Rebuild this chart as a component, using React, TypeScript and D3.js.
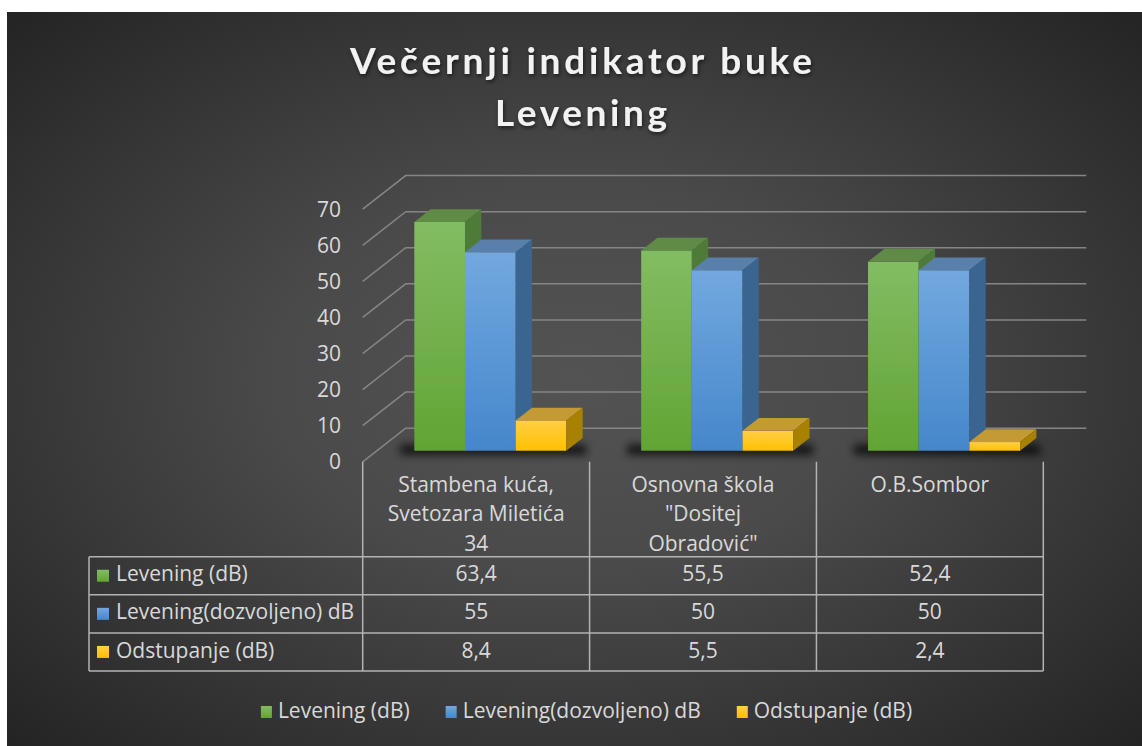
import React, { useEffect, useRef } from "react";
import * as d3 from "d3";

// chart data
const categoryLines = [
    ["Stambena kuća,", "Svetozara Miletića", "34"],
    ["Osnovna škola", "\"Dositej", "Obradović\""],
    ["O.B.Sombor"],
];
const seriesNames = ["Levening (dB)", "Levening(dozvoljeno) dB", "Odstupanje (dB)"];
const leveningValues = [63.4, 55.5, 52.4];
const allowedValues = [55, 50, 50];
const deviationValues = [8.4, 5.5, 2.4];
const yTicks = [0, 10, 20, 30, 40, 50, 60, 70];
const titleLines = ["Večernji indikator buke", "Levening"];

const seriesColors = [
    { light: "#82bd63", dark: "#62a434", top: "#5f8b46", side: "#4e7b37" },
    { light: "#72a8df", dark: "#4587cb", top: "#5980aa", side: "#3a6590" },
    { light: "#ffcf45", dark: "#ffc000", top: "#c49a35", side: "#a88100" },
];

const App = () => {
    const svgRef = useRef(null);

    useEffect(() => {
        const svg = d3.select(svgRef.current);
        svg.selectAll("*").remove();

        const font = "'Open Sans', Lato, sans-serif";
        const titleFont = "Lato, 'Open Sans', sans-serif";
        const fontSize = 21;
        const textColor = "#d9d9d9";
        const gridColor = "#858585";

        // 3D frame: front plane + depth vector
        const plot = { left: 362.7, right: 1043.3, base: 461.8, top: 209.2 };
        const depth = { dx: 43, dy: -33.6 };
        const barFront = 0.33;
        const barDepth = 0.38;

        const series = [leveningValues, allowedValues, deviationValues];
        const idx = d3.range(categoryLines.length);

        const x0 = d3
            .scaleBand()
            .domain(idx)
            .range([plot.left, plot.right])
            .paddingInner(0.33)
            .paddingOuter(0.165);
        const x1 = d3.scaleBand().domain(d3.range(series.length)).range([0, x0.bandwidth()]);
        const y = d3.scaleLinear().domain([0, 70]).range([plot.base, plot.top]);
        const step = x0.step();

        const defs = svg.append("defs");

        const bg = defs
            .append("radialGradient")
            .attr("id", "bg")
            .attr("cx", "50%")
            .attr("cy", "50%")
            .attr("r", "75%");
        bg.append("stop").attr("offset", "0%").attr("stop-color", "#535353");
        bg.append("stop").attr("offset", "35%").attr("stop-color", "#4a4a4a");
        bg.append("stop").attr("offset", "100%").attr("stop-color", "#202020");

        seriesColors.forEach((c, i) => {
            const g = defs
                .append("linearGradient")
                .attr("id", `front${i}`)
                .attr("x1", 0)
                .attr("y1", 0)
                .attr("x2", 0)
                .attr("y2", 1);
            g.append("stop").attr("offset", "0%").attr("stop-color", c.light);
            g.append("stop").attr("offset", "100%").attr("stop-color", c.dark);
        });

        const shadow = defs.append("filter").attr("id", "blur").attr("x", "-20%").attr("y", "-100%").attr("width", "140%").attr("height", "300%");
        shadow.append("feGaussianBlur").attr("stdDeviation", 4);

        const titleShadow = defs.append("filter").attr("id", "tshadow");
        titleShadow
            .append("feDropShadow")
            .attr("dx", 1)
            .attr("dy", 2)
            .attr("stdDeviation", 2)
            .attr("flood-color", "#000")
            .attr("flood-opacity", 0.6);

        // background
        svg.append("rect")
            .attr("x", 7)
            .attr("y", 12)
            .attr("width", 1135)
            .attr("height", 734)
            .attr("fill", "url(#bg)");

        // title
        svg.selectAll(".title")
            .data(titleLines)
            .join("text")
            .attr("class", "title")
            .attr("x", 581)
            .attr("y", (d, i) => 74 + i * 52)
            .attr("text-anchor", "middle")
            .attr("font-family", titleFont)
            .attr("font-weight", 700)
            .attr("font-size", 37)
            .attr("fill", "#f2f2f2")
            .attr("textLength", (d, i) => (i === 0 ? 462 : 172))
            .attr("lengthAdjust", "spacing")
            .attr("filter", "url(#tshadow)")
            .text((d) => d);

        // gridlines: side wall diagonal + back wall
        const grid = svg.append("g").attr("stroke", gridColor).attr("stroke-width", 1.5).attr("fill", "none");
        grid.selectAll("path")
            .data(yTicks)
            .join("path")
            .attr("d", (t) => {
                const yy = y(t);
                return `M${plot.left},${yy}L${plot.left + depth.dx},${yy + depth.dy}L${plot.right + depth.dx},${yy + depth.dy}`;
            });

        // y labels
        svg.selectAll(".ytick")
            .data(yTicks)
            .join("text")
            .attr("class", "ytick")
            .attr("x", 341)
            .attr("y", (t) => y(t) + 2)
            .attr("text-anchor", "end")
            .attr("dominant-baseline", "middle")
            .attr("font-family", font)
            .attr("font-size", fontSize)
            .attr("fill", textColor)
            .text((t) => t);

        // bars
        const ddx = barDepth * depth.dx;
        const ddy = barDepth * depth.dy;
        const baseY = plot.base + barFront * depth.dy;
        const offX = barFront * depth.dx;

        idx.forEach((c) => {
            const gx = x0(c) + offX;
            svg.append("rect")
                .attr("x", gx - 14)
                .attr("y", baseY - 6)
                .attr("width", x0.bandwidth() + 34)
                .attr("height", 10)
                .attr("fill", "#000")
                .attr("opacity", 0.75)
                .attr("filter", "url(#blur)");

            series.forEach((vals, s) => {
                const xb = gx + x1(s);
                const w = x1.bandwidth();
                const ytop = baseY - (plot.base - y(vals[c]));
                const col = seriesColors[s];
                const g = svg.append("g");
                g.append("rect")
                    .attr("x", xb)
                    .attr("y", ytop)
                    .attr("width", w)
                    .attr("height", baseY - ytop)
                    .attr("fill", `url(#front${s})`);
                g.append("path")
                    .attr("d", `M${xb},${ytop}L${xb + w},${ytop}L${xb + w + ddx},${ytop + ddy}L${xb + ddx},${ytop + ddy}Z`)
                    .attr("fill", col.top);
                g.append("path")
                    .attr("d", `M${xb + w},${ytop}L${xb + w + ddx},${ytop + ddy}L${xb + w + ddx},${baseY + ddy}L${xb + w},${baseY}Z`)
                    .attr("fill", col.side);
            });
        });

        // data table
        const table = { left: 89, headTop: plot.base, rowTop: 556.7, rowH: 38.1 };
        const tableBottom = table.rowTop + table.rowH * 3;
        const lines = svg.append("g").attr("stroke", "#b3b3b3").attr("stroke-width", 1.5);

        d3.range(categoryLines.length + 1).forEach((i) => {
            lines.append("line")
                .attr("x1", plot.left + i * step)
                .attr("x2", plot.left + i * step)
                .attr("y1", table.headTop)
                .attr("y2", tableBottom);
        });
        lines.append("line")
            .attr("x1", table.left)
            .attr("x2", table.left)
            .attr("y1", table.rowTop)
            .attr("y2", tableBottom);
        d3.range(4).forEach((r) => {
            lines.append("line")
                .attr("x1", table.left)
                .attr("x2", plot.right)
                .attr("y1", table.rowTop + r * table.rowH)
                .attr("y2", table.rowTop + r * table.rowH);
        });

        // category header
        idx.forEach((c) => {
            svg.append("g")
                .selectAll("text")
                .data(categoryLines[c])
                .join("text")
                .attr("x", plot.left + (c + 0.5) * step)
                .attr("y", (d, i) => 486 + i * 29.5)
                .attr("text-anchor", "middle")
                .attr("dominant-baseline", "middle")
                .attr("font-family", font)
                .attr("font-size", fontSize)
                .attr("fill", textColor)
                .text((d) => d);
        });

        const fmt = (v) => String(v).replace(".", ",");

        // table rows
        series.forEach((vals, s) => {
            const cy = table.rowTop + (s + 0.5) * table.rowH;
            svg.append("rect")
                .attr("x", 97)
                .attr("y", cy - 6)
                .attr("width", 12)
                .attr("height", 12)
                .attr("fill", `url(#front${s})`);
            svg.append("text")
                .attr("x", 116)
                .attr("y", cy)
                .attr("dominant-baseline", "middle")
                .attr("font-family", font)
                .attr("font-size", fontSize)
                .attr("fill", textColor)
                .text(seriesNames[s]);
            svg.append("g")
                .selectAll("text")
                .data(vals)
                .join("text")
                .attr("x", (d, c) => plot.left + (c + 0.5) * step)
                .attr("y", cy)
                .attr("text-anchor", "middle")
                .attr("dominant-baseline", "middle")
                .attr("font-family", font)
                .attr("font-size", fontSize)
                .attr("fill", textColor)
                .text((d) => fmt(d));
        });

        // legend
        const legend = svg.append("g");
        let cursor = 0;
        seriesNames.forEach((name, s) => {
            const item = legend.append("g").attr("transform", `translate(${cursor},0)`);
            item.append("rect")
                .attr("x", 0)
                .attr("y", -6)
                .attr("width", 11)
                .attr("height", 12)
                .attr("fill", `url(#front${s})`);
            const t = item
                .append("text")
                .attr("x", 17)
                .attr("y", 0)
                .attr("dominant-baseline", "middle")
                .attr("font-family", font)
                .attr("font-size", fontSize)
                .attr("fill", textColor)
                .text(name);
            cursor += 17 + t.node().getComputedTextLength() + 36;
        });
        const legendWidth = cursor - 36;
        legend.attr("transform", `translate(${586.5 - legendWidth / 2},712)`);
    }, []);

    return (
        <svg
            ref={svgRef}
            width={1142}
            height={746}
            style={{ position: "absolute", left: 0, top: 0, background: "#fff" }}
        ></svg>
    );
};

export default App;
